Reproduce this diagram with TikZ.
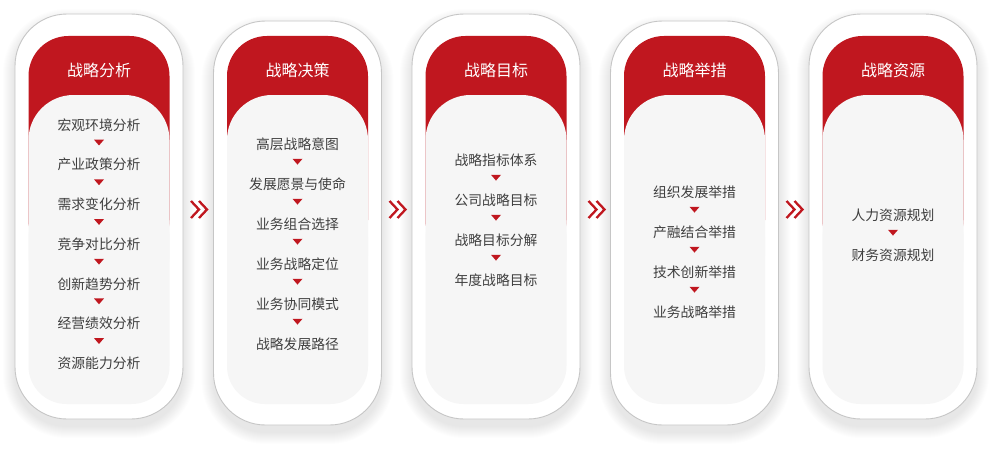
\documentclass[tikz,border=0pt]{standalone}
\usepackage{fontspec}
\setmainfont{Noto Sans CJK SC}
\usetikzlibrary{calc}
\definecolor{cred}{HTML}{C0171F}
\definecolor{cpanel}{HTML}{F6F6F6}
\definecolor{cborder}{HTML}{C6C6C6}
\definecolor{ctext}{HTML}{3F3F3F}
\newcommand\stagecard[4]{% #1 name, #2 left, #3 top, #4 bottom
  \foreach \k in {1,...,12}{
    \fill[black, opacity=0.006, rounded corners={(52+\k)*1pt}]
      ({#2-\k},{#3-\k+7}) rectangle ({#2+168+\k},{#4+\k+7});
  }
  \filldraw[fill=white, draw=cborder, line width=0.9pt, rounded corners=52pt]
    (#2,#3) rectangle ({#2+168},#4);
  \fill[cred, rounded corners=40pt] ({#2+13.5},36) rectangle ({#2+154.5},260);
  \fill[cpanel, rounded corners=45pt] ({#2+13.5},95) rectangle ({#2+154.5},300);
  \fill[cpanel, rounded corners=38pt] ({#2+13.5},200) rectangle ({#2+154.5},404);
  \coordinate (#1) at ({#2+84},70);
}
\newcommand\chev[2]{% centre x, centre y
  \draw[chevline] ({#1-8.5},{#2-8.5}) -- ({#1-0.5},#2) -- ({#1-8.5},{#2+8.5});
  \draw[chevline] ({#1-0.5},{#2-8.5}) -- ({#1+7.5},#2) -- ({#1-0.5},{#2+8.5});
}
\tikzset{
  headtext/.style={text=white, font=\fontsize{16}{19}\selectfont, inner sep=0pt},
  itemtext/.style={text=ctext, font=\fontsize{13.8}{16}\selectfont, inner sep=0pt},
  chevline/.style={draw=cred, line width=2.3pt, miter limit=10},
  downtri/.style={fill=cred}
}
\newcommand\tri[2]{% between two named item nodes
  \path let \p1=($(#1)!0.44!(#2)$) in
    [downtri] (\x1-5pt,\y1+2.8pt) -- (\x1+5pt,\y1+2.8pt) -- (\x1,\y1-3pt) -- cycle;
}
\begin{document}
\begin{tikzpicture}[x=1pt,y=-1pt]
\useasboundingbox[fill=white] (0,0) rectangle (1004,452);

\stagecard{h1}{15}{14}{419}
\stagecard{h2}{213.5}{21}{425}
\stagecard{h3}{412}{14}{419}
\stagecard{h4}{610.5}{21}{425}
\stagecard{h5}{809}{14}{419}

\node[headtext] at (h1) {战略分析};
\node[headtext] at (h2) {战略决策};
\node[headtext] at (h3) {战略目标};
\node[headtext] at (h4) {战略举措};
\node[headtext] at (h5) {战略资源};

% column 1
\node[itemtext] (a1) at (99,125) {宏观环境分析};
\node[itemtext] (a2) at (99,164.7) {产业政策分析};
\node[itemtext] (a3) at (99,204.4) {需求变化分析};
\node[itemtext] (a4) at (99,244.1) {竞争对比分析};
\node[itemtext] (a5) at (99,283.8) {创新趋势分析};
\node[itemtext] (a6) at (99,323.5) {经营绩效分析};
\node[itemtext] (a7) at (99,363.2) {资源能力分析};
\tri{a1}{a2}\tri{a2}{a3}\tri{a3}{a4}\tri{a4}{a5}\tri{a5}{a6}\tri{a6}{a7}

% column 2
\node[itemtext] (b1) at (297.5,144) {高层战略意图};
\node[itemtext] (b2) at (297.5,184) {发展愿景与使命};
\node[itemtext] (b3) at (297.5,224) {业务组合选择};
\node[itemtext] (b4) at (297.5,264) {业务战略定位};
\node[itemtext] (b5) at (297.5,304) {业务协同模式};
\node[itemtext] (b6) at (297.5,344) {战略发展路径};
\tri{b1}{b2}\tri{b2}{b3}\tri{b3}{b4}\tri{b4}{b5}\tri{b5}{b6}

% column 3
\node[itemtext] (c1) at (496,160) {战略指标体系};
\node[itemtext] (c2) at (496,200) {公司战略目标};
\node[itemtext] (c3) at (496,240) {战略目标分解};
\node[itemtext] (c4) at (496,280) {年度战略目标};
\tri{c1}{c2}\tri{c2}{c3}\tri{c3}{c4}

% column 4
\node[itemtext] (d1) at (694.5,192) {组织发展举措};
\node[itemtext] (d2) at (694.5,232) {产融结合举措};
\node[itemtext] (d3) at (694.5,272) {技术创新举措};
\node[itemtext] (d4) at (694.5,312) {业务战略举措};
\tri{d1}{d2}\tri{d2}{d3}\tri{d3}{d4}

% column 5
\node[itemtext] (e1) at (893,215) {人力资源规划};
\node[itemtext] (e2) at (893,255) {财务资源规划};
\tri{e1}{e2}

% chevrons
\chev{199.5}{209.5}
\chev{398}{209.5}
\chev{597}{209.5}
\chev{795}{209.5}
\end{tikzpicture}
\end{document}
